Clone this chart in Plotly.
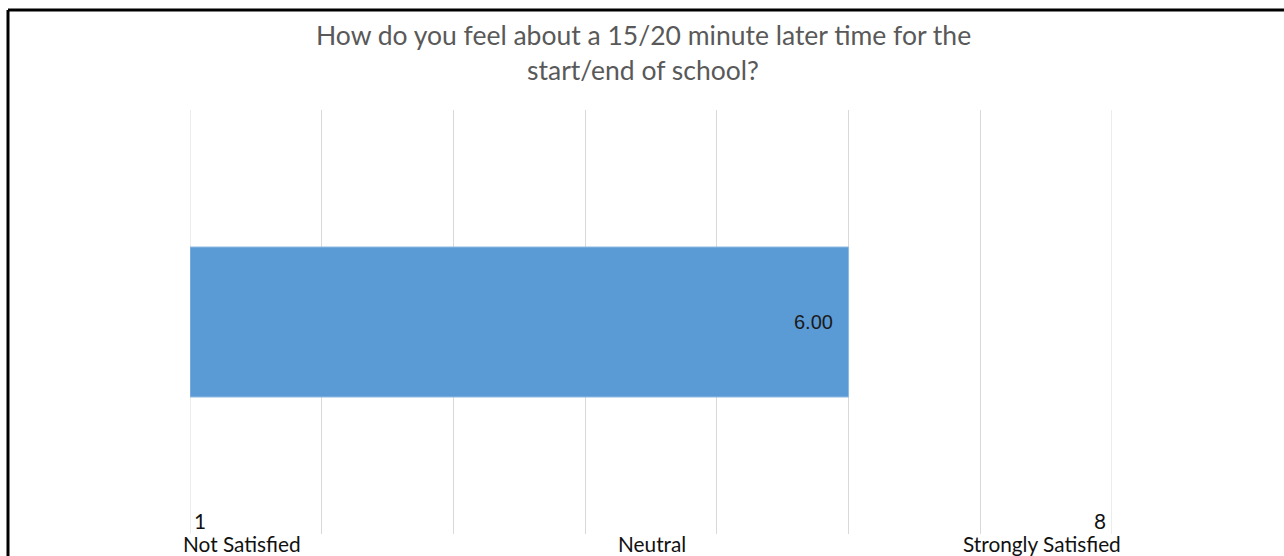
import plotly.graph_objects as go

# Survey question and its average score on a 1-8 scale
title_lines = ["How do you feel about a 15/20 minute later time for the", "start/end of school?"]
categories = ["Average"]
scores = [6.00]
scale_min, scale_max = 1, 8
tick_values = [1, 2, 3, 4, 5, 6, 7, 8]
scale_labels = ["Not Satisfied", "Neutral", "Strongly Satisfied"]

W, H = 1284, 556
# plot-area edges in pixels
L, R, T, B = 190, 1112, 110, 534


def px(x):
    return (x - L) / (R - L)


def py(y):
    return (B - y) / (B - T)


fig = go.Figure()
fig.add_trace(go.Bar(
    y=categories,
    x=[s - scale_min for s in scores],
    base=scale_min,
    orientation="h",
    marker=dict(color="#5b9bd5", line=dict(color="#8fbbe3", width=1)),
    hoverinfo="skip",
))

ann = []
# title, two centred lines
for text, y in zip(title_lines, [35, 70]):
    ann.append(dict(text=text, x=px(643), y=py(y), xref="paper", yref="paper",
                    showarrow=False, xanchor="center", yanchor="middle",
                    font=dict(family="Lato", size=26.5, color="#595959")))

# value label at the inner end of the bar
ann.append(dict(text=f"{scores[0]:.2f}", x=scores[0], y=categories[0], xref="x", yref="y",
                showarrow=False, xanchor="right", yanchor="middle", xshift=-14,
                font=dict(family="Liberation Sans", size=20, color="#1a1a1a")))

lab_font = dict(family="Lato", size=20.8, color="#111111")
# end-point numbers
ann.append(dict(text=str(scale_min), x=px(192), y=py(520), xref="paper", yref="paper",
                showarrow=False, xanchor="left", yanchor="middle", font=lab_font))
ann.append(dict(text=str(scale_max), x=px(1108), y=py(520), xref="paper", yref="paper",
                showarrow=False, xanchor="right", yanchor="middle", font=lab_font))
# scale descriptions along the bottom edge
for text, x in zip(scale_labels, [242, 652, 1042]):
    ann.append(dict(text=text, x=px(x), y=py(543), xref="paper", yref="paper",
                    showarrow=False, xanchor="center", yanchor="middle", font=lab_font))

# gridlines on the two ends of the scale, plus the frame along the top and left edges
shapes = [
    dict(type="line", xref="x", yref="paper", x0=v, x1=v, y0=0, y1=1, layer="below",
         line=dict(color="#d9d9d9", width=1))
    for v in (scale_min, scale_max)
] + [
    dict(type="line", xref="paper", yref="paper", x0=px(8), x1=px(1290), y0=py(10), y1=py(10),
         line=dict(color="#000000", width=3)),
    dict(type="line", xref="paper", yref="paper", x0=px(8), x1=px(8), y0=py(10), y1=py(560),
         line=dict(color="#000000", width=3)),
]

fig.update_layout(
    width=W, height=H,
    margin=dict(l=L, r=W - R, t=T, b=H - B, pad=0),
    paper_bgcolor="white", plot_bgcolor="white",
    showlegend=False,
    bargap=1 - 150 / (B - T),
    annotations=ann,
    shapes=shapes,
    xaxis=dict(range=[scale_min, scale_max], tickvals=tick_values, showticklabels=False,
               showgrid=True, gridcolor="#d9d9d9", gridwidth=1, zeroline=False,
               showline=False, fixedrange=True),
    yaxis=dict(showticklabels=False, showgrid=False, zeroline=False, showline=False,
               range=[-0.5, 0.5], fixedrange=True),
)

fig.write_html("out.html", config={"displayModeBar": False})
